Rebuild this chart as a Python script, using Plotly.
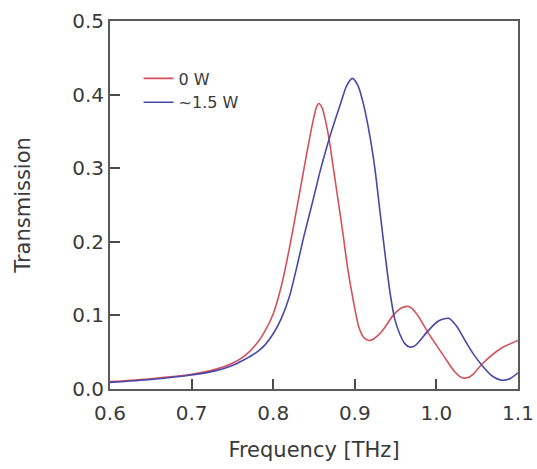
import plotly.graph_objects as go

freq_0w = [0.60, 0.65, 0.70, 0.73, 0.75, 0.765, 0.78, 0.79, 0.80, 0.81, 0.82, 0.830,
           0.8375, 0.845, 0.850, 0.853, 0.856, 0.860, 0.864, 0.868, 0.874, 0.880, 0.886,
           0.891, 0.898, 0.905, 0.911, 0.917, 0.923, 0.933, 0.947, 0.957, 0.966, 0.976,
           0.989, 1.0095, 1.022, 1.030, 1.037, 1.045, 1.056, 1.079, 1.10]
trans_0w = [0.010, 0.014, 0.020, 0.027, 0.035, 0.045, 0.062, 0.079, 0.102, 0.140, 0.192, 0.252,
            0.298, 0.343, 0.370, 0.383, 0.388, 0.382, 0.365, 0.343, 0.298, 0.253, 0.207,
            0.166, 0.121, 0.084, 0.070, 0.066, 0.068, 0.078, 0.100, 0.110, 0.112, 0.102,
            0.078, 0.044, 0.024, 0.016, 0.015, 0.020, 0.034, 0.055, 0.066]

freq_15w = [0.60, 0.65, 0.70, 0.73, 0.75, 0.765, 0.78, 0.79, 0.80, 0.81, 0.82, 0.829, 0.8375,
            0.848, 0.858, 0.870, 0.8826, 0.890, 0.897, 0.904, 0.9104, 0.9186, 0.9248, 0.9296,
            0.9345, 0.939, 0.944, 0.949, 0.955, 0.961, 0.967, 0.974, 0.989, 1.002, 1.015, 1.025,
            1.035, 1.045, 1.056, 1.068, 1.080, 1.090, 1.10]
trans_15w = [0.009, 0.013, 0.019, 0.025, 0.032, 0.040, 0.050, 0.060, 0.075, 0.096, 0.126, 0.166, 0.207,
             0.253, 0.298, 0.345, 0.388, 0.412, 0.422, 0.412, 0.388, 0.343, 0.298, 0.253,
             0.207, 0.166, 0.125, 0.095, 0.075, 0.062, 0.057, 0.059, 0.078, 0.092, 0.096, 0.085,
             0.066, 0.048, 0.032, 0.018, 0.012, 0.014, 0.022]

x_ticks = [0.6, 0.7, 0.8, 0.9, 1.0, 1.1]
y_ticks = [0.0, 0.1, 0.2, 0.3, 0.4, 0.5]

FONT = "DejaVu Sans, Liberation Sans, Arial"

fig = go.Figure()
fig.add_trace(go.Scatter(x=freq_0w, y=trans_0w, mode="lines", name="0 W",
                         line=dict(color="#d4505c", width=1.6, shape="spline", smoothing=0.7)))
fig.add_trace(go.Scatter(x=freq_15w, y=trans_15w, mode="lines", name="~1.5 W",
                         line=dict(color="#4848a8", width=1.6, shape="spline", smoothing=0.7)))

axis_common = dict(showline=True, linecolor="#5a5a5a", linewidth=2, mirror=True,
                   ticks="inside", ticklen=10, tickwidth=1.6, tickcolor="#4a4a4a",
                   showgrid=False, zeroline=False, automargin=False,
                   ticklabeloverflow="allow",
                   tickfont=dict(family=FONT, size=20, color="#3a3a3a"))

fig.update_xaxes(range=[0.6, 1.1], tickvals=x_ticks, ticktext=[f"{v:.1f}" for v in x_ticks],
                 ticklabelstandoff=5,
                 title=dict(text="Frequency [THz]", font=dict(family=FONT, size=21, color="#3a3a3a"),
                            standoff=18), **axis_common)
fig.update_yaxes(range=[0.0, 0.5], tickvals=y_ticks, ticktext=[f"{v:.1f}" for v in y_ticks],
                 title=dict(text="Transmission", font=dict(family=FONT, size=21, color="#3a3a3a"),
                            standoff=36), **axis_common)

fig.update_layout(width=537, height=469, margin=dict(l=110, r=19, t=21, b=80),
                  paper_bgcolor="white", plot_bgcolor="white",
                  showlegend=True,
                  legend=dict(x=0.070, y=0.89, xanchor="left", yanchor="top",
                              bgcolor="rgba(0,0,0,0)", tracegroupgap=0,
                              font=dict(family=FONT, size=16, color="#3a3a3a")))

fig.write_html("out.html", config={"displayModeBar": False},
               post_script="document.body.style.margin='0';")
